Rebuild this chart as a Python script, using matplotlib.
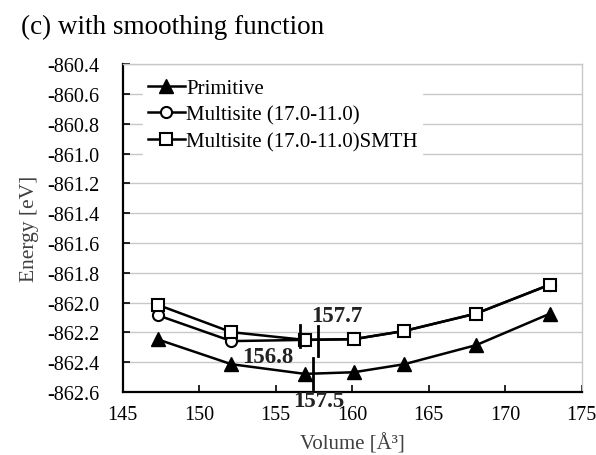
"""Energy-volume curves (c) with smoothing function."""

import matplotlib

matplotlib.use("Agg")
import matplotlib.pyplot as plt

volume = [147.3, 152.1, 156.9, 160.1, 163.4, 168.1, 172.9]
e_primitive = [-862.247, -862.413, -862.478, -862.467, -862.413, -862.285, -862.075]
e_multisite = [-862.085, -862.258, -862.250, -862.245, -862.190, -862.073, -861.880]
e_smth = [-862.015, -862.198, -862.250, -862.245, -862.190, -862.073, -861.880]

# fitted minima: (volume, energy range of marker, label, label position)
min_marks = [
    (156.6, (-862.30, -862.15), "156.8", (154.5, -862.36)),
    (157.75, (-862.36, -862.16), "157.7", (159.0, -862.085)),
    (157.45, (-862.58, -862.37), "157.5", (157.8, -862.655)),
]

yticks = [-860.4 - 0.2 * i for i in range(12)]

plt.rcParams["font.family"] = ["Liberation Serif", "DejaVu Serif"]

fig = plt.figure(figsize=(5.96, 4.56), dpi=100)
ax = fig.add_axes([0.206, 0.138, 0.77, 0.719])

ax.plot(volume, e_primitive, color="black", linewidth=1.8, marker="^", markersize=10,
        markerfacecolor="black", label="Primitive", zorder=3)
ax.plot(volume, e_multisite, color="black", linewidth=1.8, marker="o", markersize=8,
        markerfacecolor="white", markeredgewidth=1.5, label="Multisite (17.0-11.0)", zorder=3)
ax.plot(volume, e_smth, color="black", linewidth=1.8, marker="s", markersize=8.5,
        markerfacecolor="white", markeredgewidth=1.5, label="Multisite (17.0-11.0)SMTH", zorder=4)

for v, (e0, e1), txt, (tx, ty) in min_marks:
    ax.plot([v, v], [e0, e1], color="black", linewidth=2.0, zorder=5)
    ax.text(tx, ty, txt, ha="center", va="center", fontsize=16.5, fontweight="bold",
            color="#222222", zorder=6, clip_on=False)

ax.set_xlim(145, 175)
ax.set_ylim(-862.6, -860.4)
ax.set_xticks(range(145, 176, 5))
ax.set_yticks(yticks)
ax.set_yticklabels([f"{t:.1f}" for t in yticks])
ax.tick_params(direction="in", length=5, width=1.2, labelsize=14.5, colors="black")
ax.tick_params(axis="x", pad=9)
ax.tick_params(axis="y", pad=17)
ax.grid(True, axis="y", color="#c8c8c8", linewidth=1.0)
ax.set_axisbelow(True)
for side in ("left", "bottom"):
    ax.spines[side].set_linewidth(1.6)
for side in ("top", "right"):
    ax.spines[side].set_color("#c8c8c8")
    ax.spines[side].set_linewidth(1.0)

ax.set_xlabel("Volume [Å³]", fontsize=15, color="#404040", labelpad=7)
ax.set_ylabel("Energy [eV]", fontsize=15.5, color="#404040", labelpad=6)

leg = ax.legend(loc="upper left", bbox_to_anchor=(0.045, 0.97), frameon=True, fancybox=False,
                edgecolor="white", framealpha=1.0, fontsize=15, handlelength=1.8,
                handletextpad=0.05, labelspacing=0.35, borderpad=0.2, borderaxespad=0)

fig.text(0.035, 0.94, "(c) with smoothing function", fontsize=19.5, color="black", va="center")

fig.savefig("out.png", dpi=100)
